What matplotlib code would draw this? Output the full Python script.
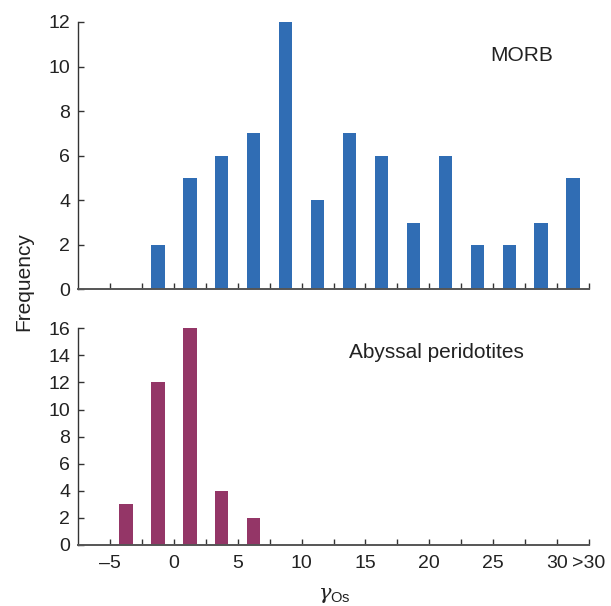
import matplotlib
matplotlib.use("Agg")
import matplotlib.pyplot as plt

# bin centres (bins 2.5 wide) and counts
morb_x = [-1.25, 1.25, 3.75, 6.25, 8.75, 11.25, 13.75, 16.25, 18.75, 21.25, 23.75, 26.25, 28.75, 31.25]
morb_n = [2, 5, 6, 7, 12, 4, 7, 6, 3, 6, 2, 2, 3, 5]
abyssal_x = [-3.75, -1.25, 1.25, 3.75, 6.25]
abyssal_n = [3, 12, 16, 4, 2]

x_ticks = [-5, -2.5, 0, 2.5, 5, 7.5, 10, 12.5, 15, 17.5, 20, 22.5, 25, 27.5, 30, 32.5]
x_labels = ["\u20135", "", "0", "", "5", "", "10", "", "15", "", "20", "", "25", "", "30", ">30"]

plt.rcParams["font.family"] = ["Liberation Sans", "DejaVu Sans"]
plt.rcParams["mathtext.fontset"] = "custom"
plt.rcParams["mathtext.rm"] = "Liberation Sans"
plt.rcParams["mathtext.it"] = "DejaVu Serif:italic"

tsize = 14
lsize = 15
fig = plt.figure(figsize=(6.11, 6.06), dpi=100)
ax1 = fig.add_axes([0.1272, 0.5223, 0.8368, 0.4414])
ax2 = fig.add_axes([0.1272, 0.1007, 0.8368, 0.3576])

ax1.bar(morb_x, morb_n, width=1.04, color="#306db4", zorder=2)
ax2.bar(abyssal_x, abyssal_n, width=1.04, color="#943667", zorder=2)

for ax in (ax1, ax2):
    ax.set_xlim(-7.53, 32.5)
    ax.set_xticks(x_ticks)
    ax.spines["top"].set_visible(False)
    ax.spines["right"].set_visible(False)
    ax.spines["left"].set_color("#333333")
    ax.spines["left"].set_linewidth(1.0)
    ax.spines["bottom"].set_color("#555555")
    ax.spines["bottom"].set_linewidth(1.4)
    ax.spines["bottom"].set_zorder(3)
    ax.tick_params(direction="in", length=4, width=1, color="#333333",
                   labelsize=tsize, labelcolor="#222222", pad=5.5)

ax1.set_ylim(0, 12)
ax1.set_yticks(range(0, 13, 2))
ax1.set_xticklabels([])
ax2.set_ylim(0, 16)
ax2.set_yticks(range(0, 17, 2))
ax2.set_xticklabels(x_labels)
ax2.tick_params(axis="x", pad=7)

ax1.text(0.869, 0.875, "MORB", transform=ax1.transAxes, ha="center", va="center",
         fontsize=lsize, color="#222222")
ax2.text(0.701, 0.89, "Abyssal peridotites", transform=ax2.transAxes, ha="center",
         va="center", fontsize=lsize, color="#222222")

fig.text(0.039, 0.535, "Frequency", rotation=90, ha="center", va="center",
         fontsize=lsize, color="#222222")
fig.text(0.547, 0.017, r"$\mathit{\gamma}_{\mathrm{Os}}$", ha="center", va="center",
         fontsize=lsize, color="#222222")

plt.savefig("out.png", dpi=100)
plt.close()
